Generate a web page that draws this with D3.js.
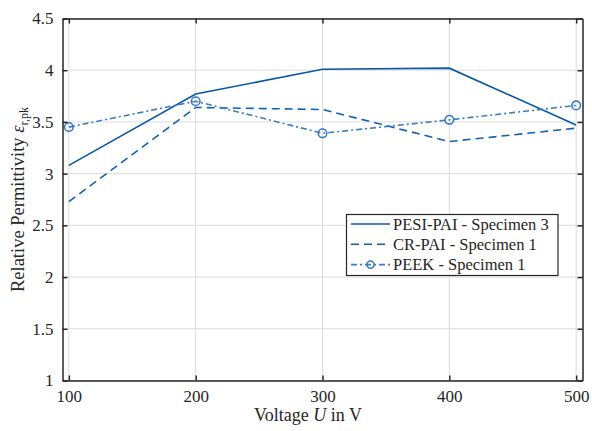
<!DOCTYPE html>
<html>
<head>
<meta charset="utf-8">
<script src="https://cdn.jsdelivr.net/npm/d3@7"></script>
<style>
  body { margin: 0; background: #fff; }
  svg text { font-family: "Liberation Serif", "DejaVu Serif", serif; fill: #262626; }
</style>
</head>
<body>
<div id="chart"></div>
<script>
// data
const voltages = [100, 200, 300, 400, 500];
const pesiPai = [3.08, 3.77, 4.01, 4.02, 3.47];
const crPai = [2.73, 3.64, 3.62, 3.31, 3.44];
const peek = [3.45, 3.70, 3.39, 3.52, 3.66];
const xTicks = [100, 200, 300, 400, 500];
const yTicks = [1, 1.5, 2, 2.5, 3, 3.5, 4, 4.5];
const seriesNames = ["PESI-PAI - Specimen 3", "CR-PAI - Specimen 1", "PEEK - Specimen 1"];

const width = 592, height = 431;
const margin = { top: 18.5, right: 9.5, bottom: 50.5, left: 62.5 };

const svg = d3.select("#chart").append("svg")
  .attr("width", width).attr("height", height);

const x = d3.scaleLinear().domain([95, 505]).range([margin.left, width - margin.right]);
const y = d3.scaleLinear().domain([1, 4.5]).range([height - margin.bottom, margin.top]);

// grid
const grid = svg.append("g").attr("stroke", "#dcdcdc").attr("stroke-width", 1);
grid.selectAll(".gx").data(xTicks).enter().append("line")
  .attr("x1", d => x(d)).attr("x2", d => x(d))
  .attr("y1", margin.top).attr("y2", height - margin.bottom);
grid.selectAll(".gy").data(yTicks).enter().append("line")
  .attr("y1", d => y(d)).attr("y2", d => y(d))
  .attr("x1", margin.left).attr("x2", width - margin.right);

// series
const series = [
  { name: seriesNames[0], values: pesiPai, color: "#0a58a4", dash: null, marker: false },
  { name: seriesNames[1], values: crPai, color: "#1261ad", dash: "8,5", marker: false },
  { name: seriesNames[2], values: peek, color: "#3d7cc0", dash: "6,3,2,3", marker: true }
];

const line = d3.line().x((d, i) => x(voltages[i])).y(d => y(d));

series.forEach(s => {
  svg.append("path")
    .datum(s.values)
    .attr("fill", "none")
    .attr("stroke", s.color)
    .attr("stroke-width", 1.6)
    .attr("stroke-dasharray", s.dash)
    .attr("d", line);
  if (s.marker) {
    svg.selectAll(null).data(s.values).enter().append("circle")
      .attr("cx", (d, i) => x(voltages[i]))
      .attr("cy", d => y(d))
      .attr("r", 4.3)
      .attr("fill", "none")
      .attr("stroke", s.color)
      .attr("stroke-width", 1.6);
  }
});

// axes box with inner ticks
const xAxisB = d3.axisBottom(x).tickValues(xTicks).tickSizeInner(-5).tickSizeOuter(0).tickPadding(9);
const xAxisT = d3.axisTop(x).tickValues(xTicks).tickSizeInner(-5).tickSizeOuter(0).tickFormat("");
const yAxisL = d3.axisLeft(y).tickValues(yTicks).tickSizeInner(-5).tickSizeOuter(0).tickPadding(9).tickFormat(d3.format("~g"));
const yAxisR = d3.axisRight(y).tickValues(yTicks).tickSizeInner(-5).tickSizeOuter(0).tickFormat("");

function styleAxis(g) {
  g.attr("font-family", null).attr("font-size", null);
  g.select(".domain").attr("stroke", "#262626").attr("stroke-width", 1.5);
  g.selectAll(".tick line").attr("stroke", "#262626").attr("stroke-width", 1.5);
  g.selectAll(".tick text").attr("font-size", 17).attr("fill", "#262626");
}

svg.append("g").attr("transform", `translate(0,${height - margin.bottom})`).call(xAxisB).call(styleAxis);
svg.append("g").attr("transform", `translate(0,${margin.top})`).call(xAxisT).call(styleAxis);
svg.append("g").attr("transform", `translate(${margin.left},0)`).call(yAxisL).call(styleAxis);
svg.append("g").attr("transform", `translate(${width - margin.right},0)`).call(yAxisR).call(styleAxis);

// axis labels
const xLab = svg.append("text")
  .attr("x", 308)
  .attr("y", 421)
  .attr("text-anchor", "middle")
  .attr("font-size", 18);
xLab.append("tspan").text("Voltage ");
xLab.append("tspan").attr("font-style", "italic").text("U");
xLab.append("tspan").text("  in V");

const yLab = svg.append("text")
  .attr("transform", `translate(24,${(margin.top + height - margin.bottom) / 2}) rotate(-90)`)
  .attr("text-anchor", "middle")
  .attr("font-size", 18.5);
yLab.append("tspan").text("Relative Permittivity ");
yLab.append("tspan").attr("font-style", "italic").text("ε");
yLab.append("tspan").attr("font-size", 12).attr("dy", 4).text("r,pk");

// legend
const lg = svg.append("g");
lg.append("rect")
  .attr("x", 346.5).attr("y", 214.5).attr("width", 211.5).attr("height", 61)
  .attr("fill", "#fff").attr("stroke", "#262626").attr("stroke-width", 1.2);
series.forEach((s, i) => {
  const yy = 224 + i * 20.3;
  lg.append("line")
    .attr("x1", 351).attr("x2", 390).attr("y1", yy).attr("y2", yy)
    .attr("stroke", s.color).attr("stroke-width", 1.6)
    .attr("stroke-dasharray", s.dash);
  if (s.marker) {
    lg.append("circle").attr("cx", 370.5).attr("cy", yy).attr("r", 3.6)
      .attr("fill", "none").attr("stroke", s.color).attr("stroke-width", 1.6);
  }
  lg.append("text").attr("x", 393).attr("y", yy).attr("dy", "0.35em")
    .attr("font-size", 16.5).text(s.name);
});
</script>
</body>
</html>
